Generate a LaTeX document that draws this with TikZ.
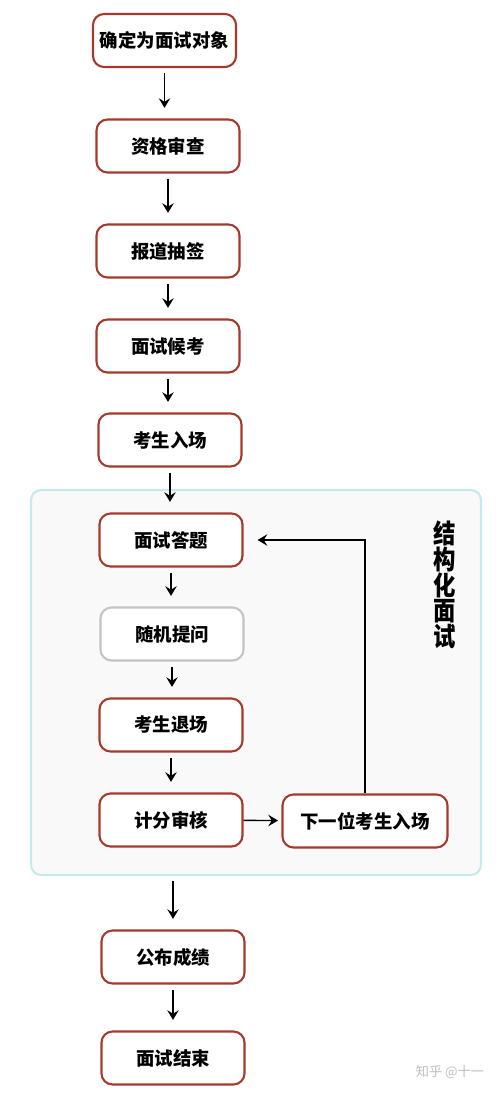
\documentclass[tikz,border=0pt]{standalone}
\usepackage{fontspec}
\newfontfamily\cjk{Noto Sans CJK SC}
\usetikzlibrary{arrows.meta}
\definecolor{boxred}{HTML}{A53A2C}
\definecolor{boxgray}{HTML}{C4C4C4}
\definecolor{groupline}{HTML}{C8E9EC}
\definecolor{groupfill}{HTML}{F9F9F9}
\begin{document}
\begin{tikzpicture}[x=0.02cm,y=-0.02cm,>={Stealth[length=5.5pt,width=6.5pt,inset=2pt]},
    stepbox/.style={draw=boxred,line width=1.2pt,rounded corners=0.22cm,fill=white,
        minimum width=2.86cm,minimum height=1.06cm,font=\cjk\bfseries\fontsize{10.5}{12}\selectfont},
    graybox/.style={stepbox,draw=boxgray},
    flow/.style={->,thick,shorten <=3pt,shorten >=6pt}]
    \useasboundingbox [fill=white] (0,0) rectangle (500,1100);
    % outer group
    \node[draw=groupline,line width=1.2pt,fill=groupfill,rounded corners=0.2cm,
          minimum width=9cm,minimum height=7.7cm] (group) at (256,682.5) {};
    % steps
    \node[stepbox] (confirm) at (164.5,40.5) {确定为面试对象};
    \node[stepbox] (check) at (168,146) {资格审查};
    \node[stepbox] (draw) at (168,251) {报道抽签};
    \node[stepbox] (wait) at (168,346) {面试候考};
    \node[stepbox] (enter) at (170,440) {考生入场};
    \node[stepbox] (answer) at (171,540) {面试答题};
    \node[graybox] (ask) at (172,634) {随机提问};
    \node[stepbox] (leave) at (171,725) {考生退场};
    \node[stepbox] (score) at (171,820) {计分审核};
    \node[stepbox,minimum width=3.3cm] (next) at (365,821) {下一位考生入场};
    \node[stepbox] (publish) at (173,957) {公布成绩};
    \node[stepbox] (finish) at (173,1058) {面试结束};
    \node[font=\cjk\bfseries\fontsize{15}{14.6}\selectfont,align=center,xscale=0.85,transform shape]
        (title) at (445,585) {结\\构\\化\\面\\试};
    \node[font=\cjk\fontsize{7.5}{9}\selectfont,text=black!25] (mark) at (450,1072) {知乎 @十一};
    % connectors
    \draw[flow] (confirm.south) -- (confirm.south |- check.north);
    \draw[flow] (check.south) -- (check.south |- draw.north);
    \draw[flow] (draw.south) -- (draw.south |- wait.north);
    \draw[flow] (wait.south) -- (wait.south |- enter.north);
    \draw[flow] (enter.south) -- (enter.south |- answer.north);
    \draw[flow] (answer.south) -- (answer.south |- ask.north);
    \draw[flow] (ask.south) -- (ask.south |- leave.north);
    \draw[flow] (leave.south) -- (leave.south |- score.north);
    \draw[flow,shorten <=0pt,shorten >=2pt] (score) -- (next);
    \draw[flow,shorten <=0pt,shorten >=8pt] (next.north) -- (next.north |- answer) -- (answer.east);
    \draw[flow,shorten <=3pt] (group.south -| publish) -- (publish.north);
    \draw[flow] (publish.south) -- (finish.north);
\end{tikzpicture}
\end{document}
